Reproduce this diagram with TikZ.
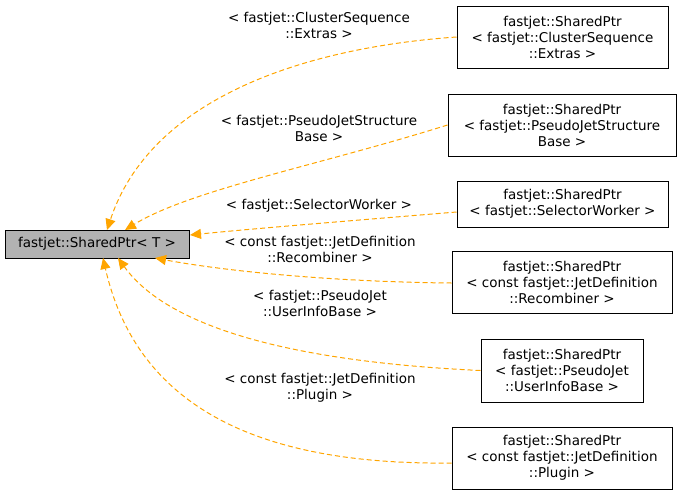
\documentclass[tikz,border=0pt]{standalone}
\usepackage{fontspec}
\setmainfont{DejaVu Sans}
\usetikzlibrary{arrows.meta,positioning}
\definecolor{edgeorange}{RGB}{255,165,0}
\tikzset{
  cls/.style={draw,line width=1pt,align=center,inner sep=2pt,font=\fontsize{13.5}{16}\selectfont},
  lbl/.style={align=center,font=\fontsize{13.5}{16}\selectfont},
  inh/.style={draw=edgeorange,dashed,line width=1pt,dash pattern=on 5pt off 3pt,-{Triangle[length=11pt,width=10pt]}}
}
\begin{document}
\begin{tikzpicture}[x=1pt,y=-1pt]
    \useasboundingbox (0,0) rectangle (683,496);
    % Base class
    \node[cls,fill=gray!60,minimum width=184,minimum height=28] (base) at (97,244) {fastjet::SharedPtr< T >};
    % Derived classes
    \node[cls,minimum width=211,minimum height=62] (c1) at (562.5,37) {fastjet::SharedPtr\\< fastjet::ClusterSequence\\::Extras >};
    \node[cls,minimum width=228,minimum height=62] (c2) at (562,125) {fastjet::SharedPtr\\< fastjet::PseudoJetStructure\\Base >};
    \node[cls,minimum width=211,minimum height=46] (c3) at (562.5,204) {fastjet::SharedPtr\\< fastjet::SelectorWorker >};
    \node[cls,minimum width=220,minimum height=62] (c4) at (562,282) {fastjet::SharedPtr\\< const fastjet::JetDefinition\\::Recombiner >};
    \node[cls,minimum width=162,minimum height=63] (c5) at (562,370.5) {fastjet::SharedPtr\\< fastjet::PseudoJet\\::UserInfoBase >};
    \node[cls,minimum width=220,minimum height=62] (c6) at (562,458) {fastjet::SharedPtr\\< const fastjet::JetDefinition\\::Plugin >};
    % End points on the base class
    \coordinate (e1) at (107,230);
    \coordinate (e2) at (125,230);
    \coordinate (e3) at (190,235);
    \coordinate (e4) at (155,258);
    \coordinate (e5) at (118,258);
    \coordinate (e6) at (103,258);
    % Inheritance
    \draw[inh] (c1.west) .. controls (300,48) and (150,100) .. (e1);
    \draw[inh] (c2.west) .. controls (320,165) and (190,190) .. (e2);
    \draw[inh] (c3.west |- 0,212) .. controls (360,220) and (260,228) .. (e3);
    \draw[inh] (c4.west |- 0,283) .. controls (340,282) and (230,272) .. (e4);
    \draw[inh] (c5.west) .. controls (300,362) and (170,330) .. (e5);
    \draw[inh] (c6.west |- 0,463) .. controls (280,465) and (140,420) .. (e6);
    % Labels
    \node[lbl] (l1) at (319,25) {< fastjet::ClusterSequence\\::Extras >};
    \node[lbl] (l2) at (319,128) {< fastjet::PseudoJetStructure\\Base >};
    \node[lbl] (l3) at (319,206) {< fastjet::SelectorWorker >};
    \node[lbl] (l4) at (320,249) {< const fastjet::JetDefinition\\::Recombiner >};
    \node[lbl] (l5) at (320,303) {< fastjet::PseudoJet\\::UserInfoBase >};
    \node[lbl] (l6) at (320,388) {< const fastjet::JetDefinition\\::Plugin >};
\end{tikzpicture}
\end{document}
